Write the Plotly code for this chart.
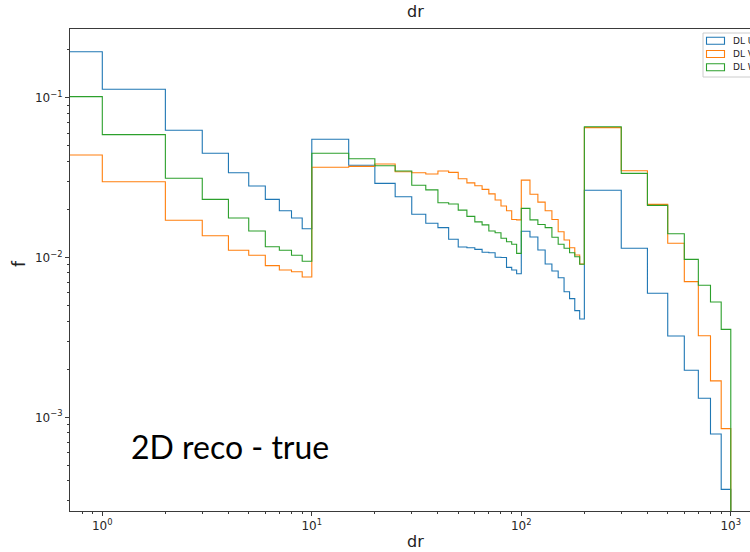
import plotly.graph_objects as go
import numpy as np

# ---- data ----
bin_edges = [0, 1, 2, 3, 4, 5, 6, 7, 8, 9, 10,
             15, 20, 25, 30, 35, 40, 45, 50, 55, 60, 65, 70, 75, 80, 85, 90, 95, 100,
             110, 120, 130, 140, 150, 160, 170, 180, 190, 200,
             300, 400, 500, 600, 700, 800, 900, 1000]

dl_u = [0.194, 0.1129, 0.0625, 0.0449, 0.0339, 0.0280, 0.0231, 0.0196, 0.01767, 0.01514,
        0.0549, 0.0378, 0.0291, 0.0240, 0.01864, 0.01637, 0.01537, 0.0130, 0.01163, 0.0115,
        0.01125, 0.01078, 0.0107, 0.01003, 0.0100, 0.00868, 0.00835, 0.00792,
        0.01459, 0.01344, 0.01114, 0.0091, 0.00823, 0.00747, 0.00611, 0.00553, 0.00465, 0.00412,
        0.02634, 0.01142, 0.00597, 0.00323, 0.00197, 0.001315, 0.000786, 0.000354]

dl_v = [0.0438, 0.0298, 0.0171, 0.01369, 0.01109, 0.01032, 0.00889, 0.00835, 0.00815, 0.00755,
        0.0367, 0.0372, 0.0385, 0.0344, 0.0339, 0.0333, 0.0348, 0.0341, 0.0311, 0.0293,
        0.0281, 0.0267, 0.0250, 0.0229, 0.0210, 0.0196, 0.0173, 0.0172,
        0.0305, 0.0249, 0.0222, 0.0196, 0.0173, 0.0145, 0.01287, 0.0115, 0.01036, 0.0091,
        0.0650, 0.0349, 0.0215, 0.01227, 0.00706, 0.00324, 0.00169, 0.000849]

dl_w = [0.1015, 0.0587, 0.0313, 0.0231, 0.01767, 0.01465, 0.01168, 0.01109, 0.01032, 0.00947,
        0.0449, 0.0415, 0.0375, 0.0348, 0.0283, 0.0265, 0.0220, 0.0216, 0.0198, 0.0181,
        0.0167, 0.0160, 0.01465, 0.01429, 0.01319, 0.01256, 0.0121, 0.01062,
        0.0203, 0.0172, 0.0161, 0.01537, 0.01338, 0.0121, 0.01142, 0.01072, 0.01012, 0.00907,
        0.0658, 0.0336, 0.0212, 0.01409, 0.00974, 0.0067, 0.00527, 0.00355]

series_names = ["DL U", "DL V", "DL W"]
series_colors = ["#1f77b4", "#ff7f0e", "#2ca02c"]
x_tick_vals = [1, 10, 100, 1000]
x_tick_text = ["10<sup>0</sup>", "10<sup>1</sup>", "10<sup>2</sup>", "10<sup>3</sup>"]
y_tick_vals = [0.001, 0.01, 0.1]
y_tick_text = ["10<sup>\u22123</sup>", "10<sup>\u22122</sup>", "10<sup>\u22121</sup>"]

# ---- layout geometry ----
W, H = 750, 552
ML, MR, MT, MB = 70, 0, 29, 41
PW, PH = W - ML - MR, H - MT - MB
x_range = [-0.1542, 3.0917]
y_range = [-3.5863, -0.5701]


def px(xp):
    return (xp - ML) / PW


def py(yp):
    return 1 - (yp - MT) / PH


fig = go.Figure()
edges = np.array(bin_edges, dtype=float)
plot_edges = np.where(edges > 0, edges, 0.1)
floor_val = 1e-6
for name, vals, col in zip(series_names, [dl_u, dl_v, dl_w], series_colors):
    v = np.array(vals, dtype=float)
    xs = np.concatenate([plot_edges, [plot_edges[-1]]])
    ys = np.concatenate([v, [floor_val, floor_val]])
    fig.add_trace(go.Scatter(x=xs, y=ys, mode="lines", line_shape="hv",
                             line=dict(color=col, width=1.1), name=name,
                             showlegend=False, hoverinfo="skip"))

minor_x = [m * 10 ** k for k in range(-1, 4) for m in range(2, 10)]
minor_y = [m * 10 ** k for k in range(-4, 0) for m in range(2, 10)]

axis_font = dict(family="DejaVu Sans", size=12, color="#262626")
fig.update_xaxes(type="log", range=x_range, showgrid=False, zeroline=False,
                 showline=True, linecolor="#3a3a3a", linewidth=1, mirror=True,
                 ticks="outside", ticklen=4, tickcolor="#3a3a3a",
                 tickvals=x_tick_vals, ticktext=x_tick_text, tickfont=axis_font,
                 minor=dict(tickvals=minor_x, ticks="outside", ticklen=2,
                            tickcolor="#3a3a3a", showgrid=False))
fig.update_yaxes(type="log", range=y_range, showgrid=False, zeroline=False,
                 showline=True, linecolor="#3a3a3a", linewidth=1, mirror=False,
                 ticks="outside", ticklen=4, tickcolor="#3a3a3a",
                 tickvals=y_tick_vals, ticktext=y_tick_text, tickfont=axis_font,
                 minor=dict(tickvals=minor_y, ticks="outside", ticklen=2,
                            tickcolor="#3a3a3a", showgrid=False))

shapes = []
annotations = []
# title and axis labels
annotations.append(dict(text="dr", x=px(415), y=py(12), xref="paper", yref="paper",
                        showarrow=False, xanchor="center", yanchor="middle",
                        font=dict(family="DejaVu Sans", size=16, color="#222")))
annotations.append(dict(text="dr", x=px(415), y=py(541), xref="paper", yref="paper",
                        showarrow=False, xanchor="center", yanchor="middle",
                        font=dict(family="DejaVu Sans", size=16, color="#222")))
annotations.append(dict(text="f", x=px(19), y=py(264), xref="paper", yref="paper",
                        showarrow=False, xanchor="center", yanchor="middle", textangle=-90,
                        font=dict(family="DejaVu Sans", size=17, color="#222")))
annotations.append(dict(text="2D reco - true", x=px(129), y=py(446), xref="paper", yref="paper",
                        showarrow=False, xanchor="left", yanchor="middle",
                        font=dict(family="Lato", size=32, color="#000")))

# legend (cropped at the right edge like the reference)
shapes.append(dict(type="rect", xref="paper", yref="paper",
                   x0=px(703), x1=px(790), y0=py(77), y1=py(33),
                   line=dict(color="#cccccc", width=1), fillcolor="rgba(255,255,255,0.85)"))
for i, (name, col) in enumerate(zip(series_names, series_colors)):
    yc = 40.7 + i * 13.3
    shapes.append(dict(type="rect", xref="paper", yref="paper",
                       x0=px(706.5), x1=px(724.5), y0=py(yc + 3.5), y1=py(yc - 3.5),
                       line=dict(color=col, width=1.1), fillcolor="rgba(0,0,0,0)"))
    annotations.append(dict(text=name, x=px(730.5), y=py(yc), xref="paper", yref="paper",
                            showarrow=False, xanchor="left", yanchor="middle",
                            font=dict(family="DejaVu Sans", size=9, color="#222")))

fig.update_layout(width=W, height=H, margin=dict(l=ML, r=MR, t=MT, b=MB, autoexpand=False),
                  paper_bgcolor="white", plot_bgcolor="white",
                  shapes=shapes, annotations=annotations, showlegend=False)

fig.write_html("out.html")
